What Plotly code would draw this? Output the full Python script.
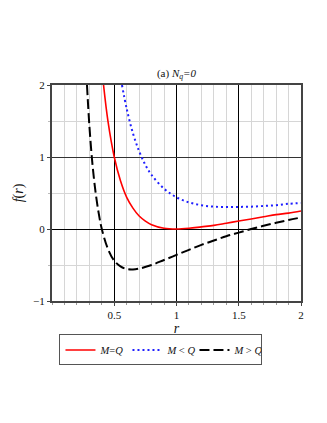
import plotly.graph_objects as go

# values
r_eq = [0.414, 0.45, 0.5, 0.55, 0.6, 0.65, 0.7, 0.75, 0.8, 0.9, 1.0,
        1.1, 1.2, 1.3, 1.4, 1.5, 1.6, 1.7, 1.8, 1.9, 2.0]
f_eq = [2.0, 1.49, 1.0, 0.67, 0.44, 0.29, 0.18, 0.11, 0.06, 0.01, 0.0,
        0.01, 0.03, 0.05, 0.08, 0.11, 0.14, 0.17, 0.2, 0.22, 0.25]

r_lt = [0.562, 0.6, 0.65, 0.7, 0.75, 0.8, 0.9, 1.0, 1.1, 1.2, 1.3,
        1.4, 1.5, 1.6, 1.7, 1.8, 1.9, 2.0]
f_lt = [2.0, 1.67, 1.33, 1.08, 0.89, 0.75, 0.56, 0.44, 0.37, 0.33, 0.31,
        0.306, 0.307, 0.31, 0.32, 0.33, 0.35, 0.36]

r_gt = [0.281, 0.3, 0.325, 0.35, 0.375, 0.4, 0.45, 0.5, 0.55, 0.6, 0.65,
        0.7, 0.8, 0.9, 1.0, 1.1, 1.2, 1.3, 1.4, 1.5, 1.6, 1.7, 1.8, 1.9, 2.0]
f_gt = [2.0, 1.44, 0.9, 0.51, 0.22, 0.0, -0.28, -0.44, -0.52, -0.556, -0.562,
        -0.55, -0.5, -0.43, -0.36, -0.29, -0.22, -0.16, -0.1, -0.05, 0.0,
        0.045, 0.086, 0.125, 0.16]

x_ticks = [0.5, 1, 1.5, 2]
x_labels = ["0.5", "1", "1.5", "2"]
y_ticks = [-1, 0, 1, 2]
y_labels = ["\u22121", "0", "1", "2"]

serif = "Liberation Serif"

fig = go.Figure()
fig.add_trace(go.Scatter(x=r_eq, y=f_eq, mode="lines", name="<i>M</i>=<i>Q</i>",
                         line=dict(color="#ff0000", width=1.6, shape="spline")))
fig.add_trace(go.Scatter(x=r_lt, y=f_lt, mode="lines", name="<i>M</i> &lt; <i>Q</i>",
                         line=dict(color="#1f1fff", width=2, dash="2px,3px", shape="spline")))
fig.add_trace(go.Scatter(x=r_gt, y=f_gt, mode="lines", name="<i>M</i> &gt; <i>Q</i>",
                         line=dict(color="#000000", width=2, dash="10px,4px", shape="spline")))

fig.update_layout(
    width=327, height=423,
    margin=dict(l=52, r=26, t=85, b=122, autoexpand=False),
    paper_bgcolor="white", plot_bgcolor="white",
    font=dict(family=serif, size=11, color="#111"),
    title=dict(text="(a) <i>N</i><sub><i>q</i></sub><i>=0</i>",
               x=0.5, xref="paper", xanchor="center",
               y=1 - 73 / 423, yanchor="middle",
               font=dict(family=serif, size=11, color="#111")),
    showlegend=True,
    legend=dict(orientation="h", x=0.03, xanchor="left", y=-0.155, yanchor="top",
                bordercolor="#555", borderwidth=1, bgcolor="white",
                font=dict(family=serif, size=10.5),
                itemwidth=30, entrywidth=22, entrywidthmode="pixels",
                tracegroupgap=0),
    xaxis=dict(range=[0, 2], tickvals=x_ticks, ticktext=x_labels,
               showgrid=True, gridcolor="#000", gridwidth=1,
               minor=dict(dtick=0.1, tick0=0, showgrid=True, gridcolor="#d6d6d6",
                          gridwidth=1, ticks="outside", ticklen=2, tickcolor="#999"),
               showline=True, mirror=True, linecolor="#444", linewidth=2,
               ticks="outside", ticklen=3, tickcolor="#444", zeroline=False,
               automargin=False,
               title=dict(text="<i>r</i>", standoff=2, font=dict(size=14))),
    yaxis=dict(range=[-1, 2], tickvals=y_ticks, ticktext=y_labels,
               showgrid=True, gridcolor="#333", gridwidth=1,
               minor=dict(dtick=0.5, tick0=0, showgrid=True, gridcolor="#d6d6d6",
                          gridwidth=1, ticks="outside", ticklen=2, tickcolor="#bbb"),
               showline=True, mirror=True, linecolor="#444", linewidth=2,
               ticks="outside", ticklen=3, tickcolor="#444",
               zeroline=True, zerolinecolor="#000", zerolinewidth=1,
               automargin=False,
               title=dict(text="<i>f</i>(<i>r</i>)", standoff=6, font=dict(size=14))),
)

fig.write_html("out.html", config={"displayModeBar": False},
               post_script="document.body.style.margin='0px';")
